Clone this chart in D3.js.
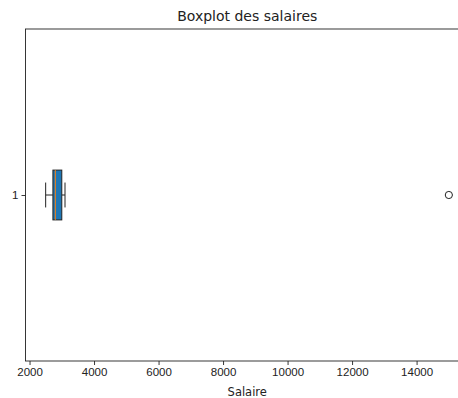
<!DOCTYPE html>
<html>
<head>
<meta charset="utf-8">
<script src="https://cdn.jsdelivr.net/npm/d3@7"></script>
<style>
  body { margin: 0; background: #fff; }
  svg { display: block; font-family: "DejaVu Sans", sans-serif; }
</style>
</head>
<body>
<div id="chart"></div>
<script>
// boxplot summary
const categories = ["1"];
const whiskerLow = [2500];
const q1 = [2725];
const median = [2800];
const q3 = [3000];
const whiskerHigh = [3100];
const outliers = [[15000]];
const xTicks = [2000, 4000, 6000, 8000, 10000, 12000, 14000];

const width = 458, height = 398;
const margin = { top: 29, bottom: 361, left: 25.5, right: 469 };

const svg = d3.select('#chart').append('svg')
    .attr('width', width)
    .attr('height', height);

const x = d3.scaleLinear()
    .domain([1875, 15625])
    .range([margin.left, margin.right]);

const y = d3.scaleLinear()
    .domain([0.5, 1.5])
    .range([margin.bottom, margin.top]);

const boxH = 0.15, capH = 0.075;

// x axis
const xAxis = d3.axisBottom(x)
    .tickValues(xTicks)
    .tickFormat(d3.format('d'))
    .tickSize(4)
    .tickPadding(3);

const gx = svg.append('g')
    .attr('transform', `translate(0,${margin.bottom})`)
    .call(xAxis);
gx.select('.domain').remove();
gx.selectAll('line').attr('stroke', '#222').attr('stroke-width', 0.9);
gx.selectAll('text').attr('font-size', 11.5).attr('fill', '#222');

// y axis
const yAxis = d3.axisLeft(y)
    .tickValues(categories.map((c, i) => i + 1))
    .tickFormat((d, i) => categories[i])
    .tickSize(4)
    .tickPadding(3);

const gy = svg.append('g')
    .attr('transform', `translate(${margin.left},0)`)
    .call(yAxis);
gy.select('.domain').remove();
gy.selectAll('line').attr('stroke', '#222').attr('stroke-width', 0.9);
gy.selectAll('text').attr('font-size', 11.5).attr('fill', '#222');

// frame
svg.append('rect')
    .attr('x', margin.left)
    .attr('y', margin.top)
    .attr('width', margin.right - margin.left)
    .attr('height', margin.bottom - margin.top)
    .attr('fill', 'none')
    .attr('stroke', '#222')
    .attr('stroke-width', 0.9);

// boxes
categories.forEach((c, i) => {
    const pos = i + 1;
    const g = svg.append('g');

    // whiskers
    g.append('line')
        .attr('x1', x(whiskerLow[i])).attr('x2', x(q1[i]))
        .attr('y1', y(pos)).attr('y2', y(pos))
        .attr('stroke', '#222').attr('stroke-width', 1);
    g.append('line')
        .attr('x1', x(q3[i])).attr('x2', x(whiskerHigh[i]))
        .attr('y1', y(pos)).attr('y2', y(pos))
        .attr('stroke', '#222').attr('stroke-width', 1);

    // caps
    [whiskerLow[i], whiskerHigh[i]].forEach(v => {
        g.append('line')
            .attr('x1', x(v)).attr('x2', x(v))
            .attr('y1', y(pos - capH / 2)).attr('y2', y(pos + capH / 2))
            .attr('stroke', '#222').attr('stroke-width', 1);
    });

    // box
    g.append('rect')
        .attr('x', x(q1[i]))
        .attr('y', y(pos + boxH / 2))
        .attr('width', x(q3[i]) - x(q1[i]))
        .attr('height', y(pos - boxH / 2) - y(pos + boxH / 2))
        .attr('fill', '#1f77b4')
        .attr('stroke', '#222')
        .attr('stroke-width', 1);

    // median
    g.append('line')
        .attr('x1', x(median[i])).attr('x2', x(median[i]))
        .attr('y1', y(pos + boxH / 2)).attr('y2', y(pos - boxH / 2))
        .attr('stroke', '#ff7f0e').attr('stroke-width', 1);

    // fliers
    g.selectAll('circle')
        .data(outliers[i])
        .join('circle')
        .attr('cx', d => x(d))
        .attr('cy', y(pos))
        .attr('r', 3.6)
        .attr('fill', 'none')
        .attr('stroke', '#222')
        .attr('stroke-width', 1);
});

// title and label
svg.append('text')
    .attr('x', (margin.left + margin.right) / 2)
    .attr('y', 21)
    .attr('text-anchor', 'middle')
    .attr('font-size', 14)
    .attr('fill', '#222')
    .text('Boxplot des salaires');

svg.append('text')
    .attr('x', (margin.left + margin.right) / 2)
    .attr('y', 396)
    .attr('text-anchor', 'middle')
    .attr('font-size', 11.5)
    .attr('fill', '#222')
    .text('Salaire');
</script>
</body>
</html>
